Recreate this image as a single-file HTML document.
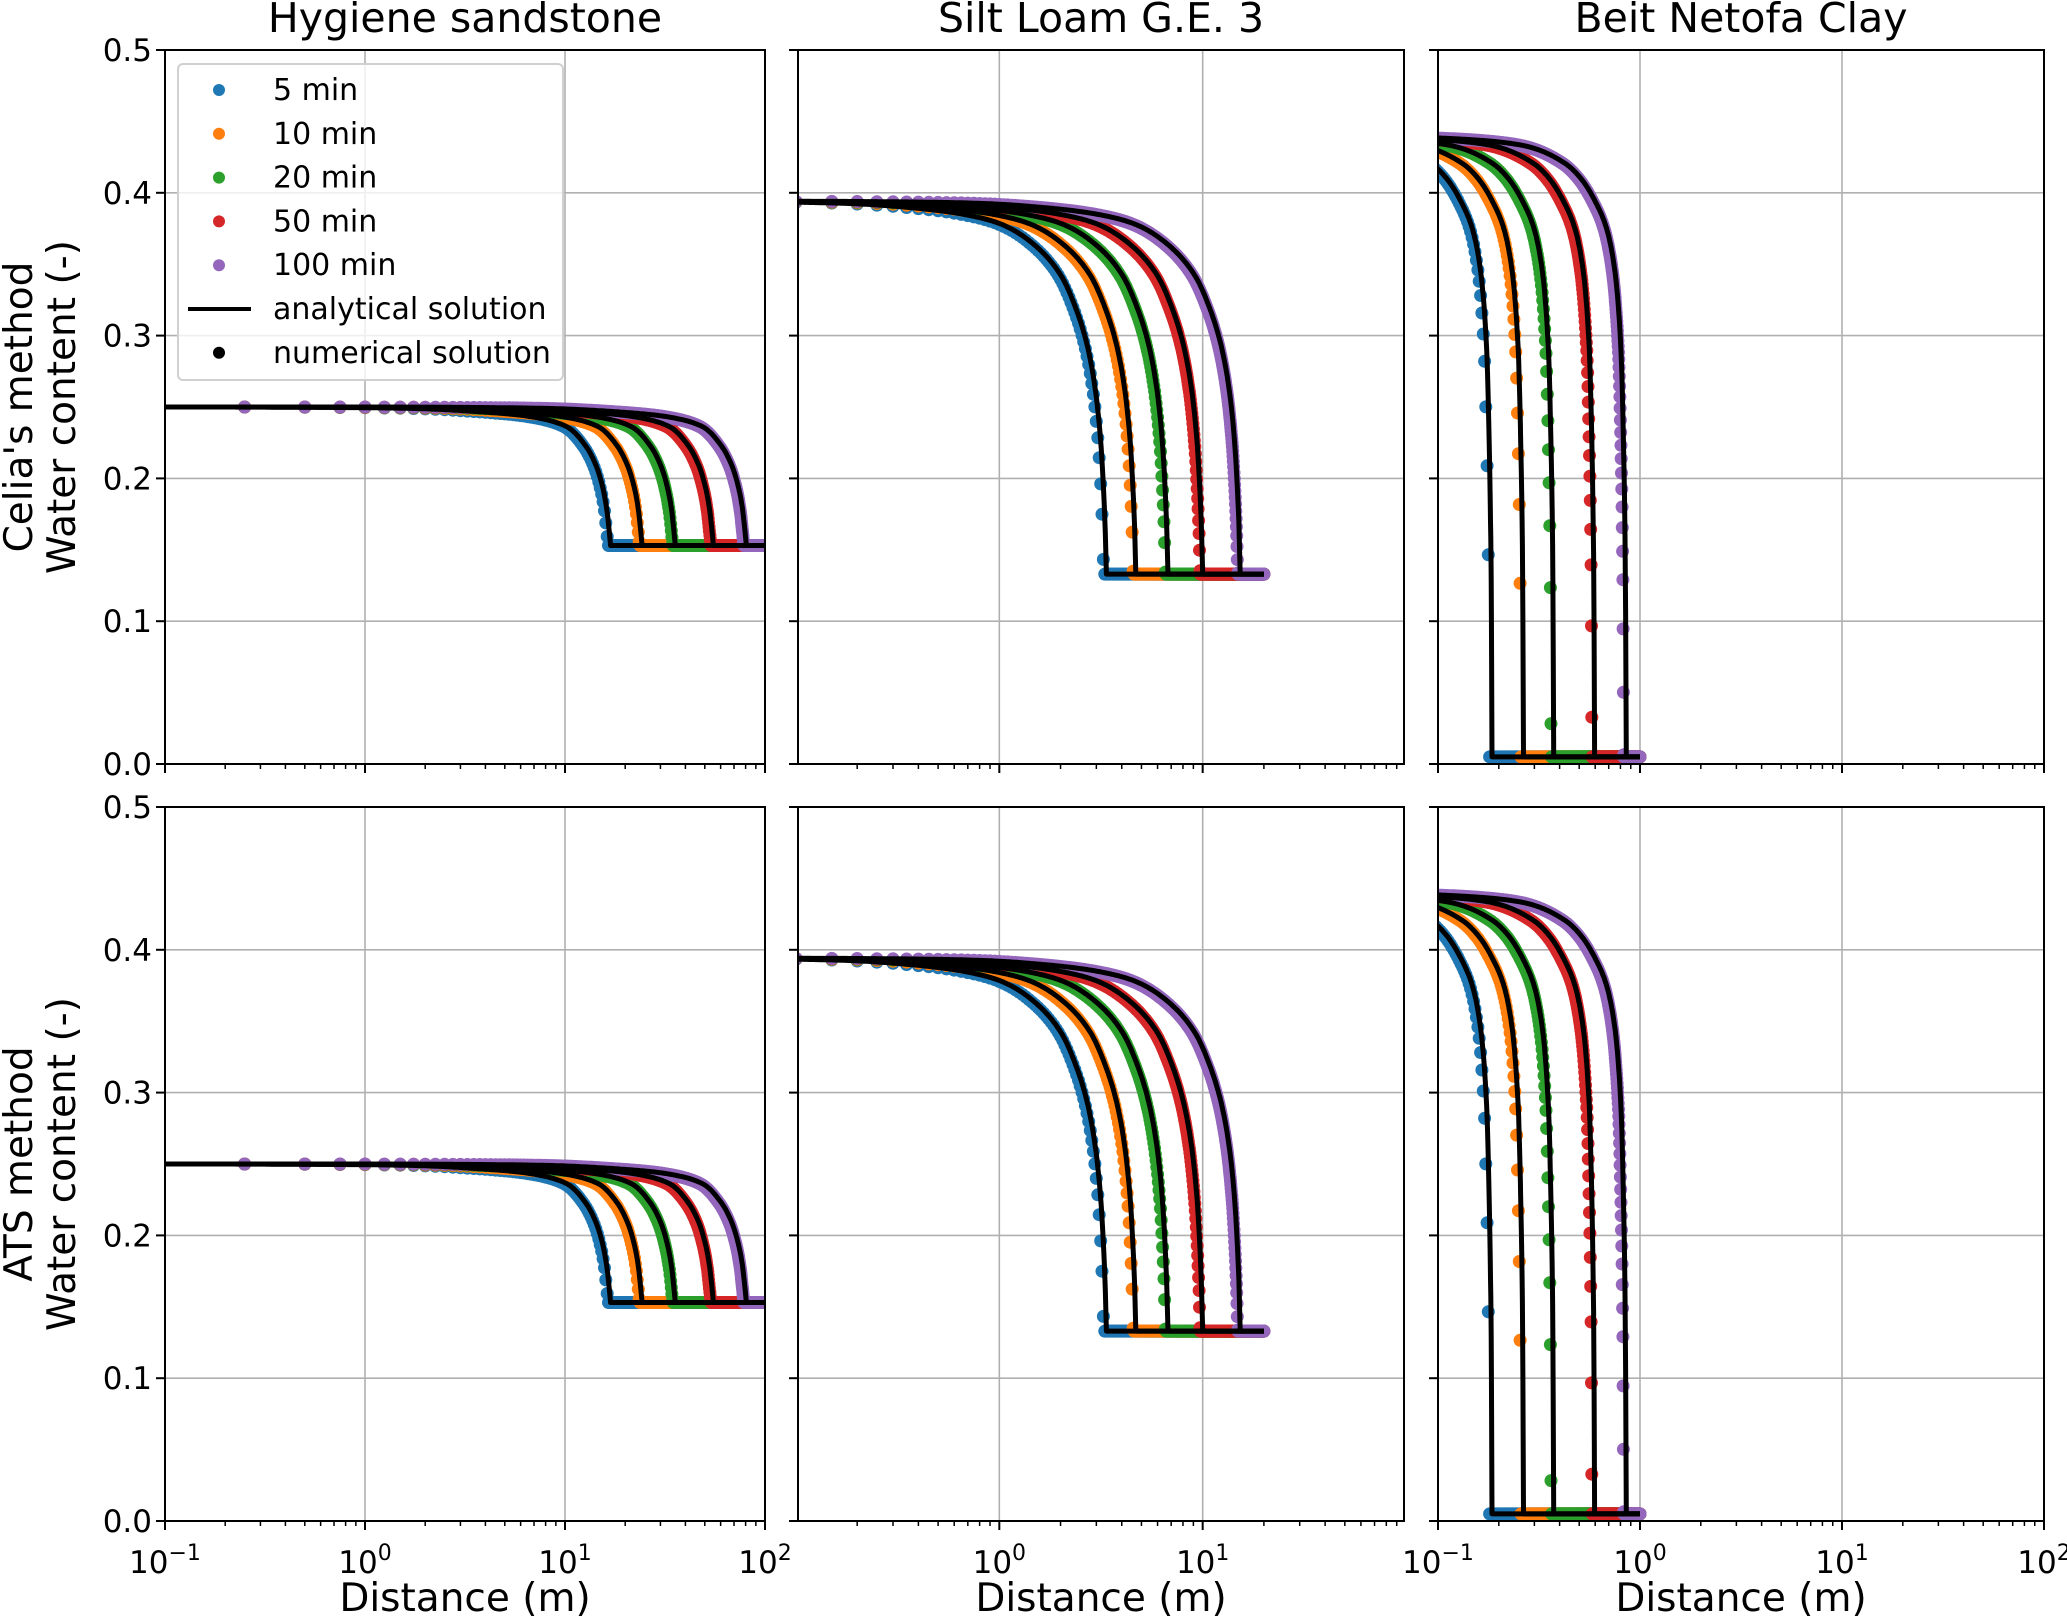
<!DOCTYPE html>
<html><head><meta charset="utf-8"><style>
html,body{margin:0;padding:0;background:#fff}
svg{display:block;font-family:"DejaVu Sans","Liberation Sans",sans-serif}
</style></head><body>
<svg id="chart" width="2067" height="1617" viewBox="0 0 2067 1617" xmlns="http://www.w3.org/2000/svg"></svg>
<script>
// ---- data ----
const soils = ["Hygiene sandstone", "Silt Loam G.E. 3", "Beit Netofa Clay"];
const methods = ["Celia's method", "ATS method"];
const times = ["5 min", "10 min", "20 min", "50 min", "100 min"];
const colors = ["#1f77b4", "#ff7f0e", "#2ca02c", "#d62728", "#9467bd"];
// wetting front positions (m) per soil, per time
const frontsSandstone = [16.9, 24.3, 35.6, 55.2, 80.7];
const frontsSilt = [3.36, 4.69, 6.75, 10.0, 15.3];
const frontsClay = [0.185, 0.265, 0.374, 0.596, 0.855];
const thetaInit = [0.25, 0.394, 0.44];
const thetaFinal = [0.153, 0.133, 0.005];
const domainEnd = [100, 20, 1.0];
const dotSpacing = [0.25, 0.05, 0.0025];
// profile shape: x/front ratio -> fraction of (thetaInit - thetaFinal)
const shapeRatioSandstone = [0.01, 0.1, 0.2, 0.4, 0.6, 0.75, 0.85, 0.92, 0.96, 0.985, 1.0];
const shapeFracSandstone  = [1.0, 0.99, 0.97, 0.93, 0.86, 0.72, 0.57, 0.40, 0.25, 0.10, 0.0];
const shapeRatioSilt = [0.01, 0.05, 0.1, 0.2, 0.3, 0.45, 0.6, 0.7, 0.8, 0.88, 0.94, 0.97, 0.99, 1.0];
const shapeFracSilt  = [1.0, 0.995, 0.985, 0.965, 0.94, 0.88, 0.80, 0.72, 0.62, 0.50, 0.35, 0.22, 0.10, 0.0];
const shapeRatioClay = [0.05, 0.3, 0.5, 0.6, 0.7, 0.8, 0.88, 0.94, 0.97, 0.99, 1.0];
const shapeFracClay  = [1.0, 0.985, 0.955, 0.93, 0.895, 0.85, 0.78, 0.66, 0.50, 0.30, 0.0];
const yTicks = [0.0, 0.1, 0.2, 0.3, 0.4, 0.5];
const xLogRange = [[-1, 2], [-0.99, 1.99], [-1, 2]];
const xMajorExp = [-1, 0, 1, 2];
const legendLabels = ["5 min", "10 min", "20 min", "50 min", "100 min", "analytical solution", "numerical solution"];

const fronts = [frontsSandstone, frontsSilt, frontsClay];
const shapeR = [shapeRatioSandstone, shapeRatioSilt, shapeRatioClay];
const shapeF = [shapeFracSandstone, shapeFracSilt, shapeFracClay];

// ---- layout ----
const NS = "http://www.w3.org/2000/svg";
const svg = document.getElementById("chart");
const lefts = [165, 798, 1438], widths = [600, 606, 606], tops = [50, 807], H = 714;

function el(tag, attrs, parent) {
  const e = document.createElementNS(NS, tag);
  for (const k in attrs) e.setAttribute(k, attrs[k]);
  (parent || svg).appendChild(e);
  return e;
}
// monotone cubic (Fritsch-Carlson) slopes per soil
const slopes = shapeR.map((R, s) => {
  const F = shapeF[s], n = R.length, d = [], m = [];
  for (let i = 0; i < n - 1; i++) d.push((F[i+1] - F[i]) / (R[i+1] - R[i]));
  m.push(d[0]);
  for (let i = 1; i < n - 1; i++) m.push(d[i-1] * d[i] <= 0 ? 0 : 2 / (1 / d[i-1] + 1 / d[i]));
  m.push(d[n-2]);
  return m;
});
function shape(s, r) {
  const R = shapeR[s], F = shapeF[s], M = slopes[s];
  if (r <= R[0]) return F[0];
  if (r >= 1) return 0;
  for (let i = 1; i < R.length; i++) if (r <= R[i]) {
    const h = R[i] - R[i-1], t = (r - R[i-1]) / h;
    const h00 = 2*t*t*t - 3*t*t + 1, h10 = t*t*t - 2*t*t + t, h01 = -2*t*t*t + 3*t*t, h11 = t*t*t - t*t;
    return h00 * F[i-1] + h10 * h * M[i-1] + h01 * F[i] + h11 * h * M[i];
  }
  return 0;
}

for (let row = 0; row < 2; row++) {
  for (let col = 0; col < 3; col++) {
    const L = lefts[col], T = tops[row], W = widths[col];
    const [lo, hi] = xLogRange[col];
    const xs = v => L + (Math.log10(v) - lo) / (hi - lo) * W;
    const ys = v => T + H - v / 0.5 * H;
    const g = el("g", {});
    
    
    const clipId = "c" + row + col;
    const cp = el("clipPath", {id: clipId}, g);
    el("rect", {x: L, y: T, width: W, height: H}, cp);
    // grid
    const grid = el("g", {stroke: "#b0b0b0", "stroke-width": 1.6}, g);
    
    
    yTicks.forEach(v => el("line", {x1: L, x2: L + W, y1: ys(v), y2: ys(v)}, grid));
    xMajorExp.forEach(e => { const x = xs(Math.pow(10, e)); if (x >= L - 0.5 && x <= L + W + 0.5) el("line", {x1: x, x2: x, y1: T, y2: T + H}, grid); });
    // series
    const data = el("g", {"clip-path": "url(#" + clipId + ")"}, g);
    const s = col;
    const thFor = (xf) => (x => x >= xf ? thetaFinal[s] : thetaFinal[s] + (thetaInit[s] - thetaFinal[s]) * shape(s, x / xf));
    fronts[s].forEach((xf, i) => {
      const th = thFor(xf);
      const dg = el("g", {fill: colors[i]}, data);
      
      
      const dx = dotSpacing[s];
      for (let k = 1; k * dx <= domainEnd[s] + 1e-9; k++) {
        const x = k * dx;
        if (Math.log10(x) < lo - 0.02) continue;
        el("circle", {cx: xs(x).toFixed(1), cy: ys(th(x * 1.03)).toFixed(1), r: 6.5}, dg);
      }
    });
    fronts[s].forEach((xf, i) => {
      const th = thFor(xf);
      const xStart = Math.pow(10, lo);
      let p = "";
      const N = 300;
      const a = Math.log10(Math.min(xStart, xf * 0.5)), b = Math.log10(xf);
      let first = true;
      for (let j = 0; j <= N; j++) {
        const x = Math.pow(10, a + (b - a) * j / N) * (j === N ? 0.99999 : 1);
        if (x < xStart * 0.98) continue;
        p += (first ? "M" : "L") + xs(x).toFixed(1) + " " + ys(th(x)).toFixed(1);
        first = false;
      }
      p += "L" + xs(xf).toFixed(1) + " " + ys(thetaFinal[s]).toFixed(1);
      p += "L" + xs(domainEnd[s]).toFixed(1) + " " + ys(thetaFinal[s]).toFixed(1);
      const path = el("path", {d: p, fill: "none", stroke: "#000", "stroke-width": 5, "stroke-linejoin": "round"}, data);
      
      
    });
    // frame
    const frame = el("rect", {x: L, y: T, width: W, height: H, fill: "none", stroke: "#000", "stroke-width": 2}, g);
    
    
    // y ticks
    yTicks.forEach(v => {
      el("line", {x1: L - 9, x2: L, y1: ys(v), y2: ys(v), stroke: "#000", "stroke-width": 2}, g);
      if (col === 0) {
        const t = el("text", {x: L - 13, y: ys(v) + 11, "text-anchor": "end", "font-size": 31}, g);
        t.textContent = v.toFixed(1);
        
        
      }
    });
    // x ticks
    for (let e = Math.floor(lo); e <= Math.ceil(hi); e++) {
      for (let m = 1; m <= 9; m++) {
        const v = m * Math.pow(10, e);
        const lv = Math.log10(v);
        if (lv < lo - 1e-6 || lv > hi + 1e-6) continue;
        const x = xs(v);
        el("line", {x1: x, x2: x, y1: T + H, y2: T + H + (m === 1 ? 9 : 5), stroke: "#000", "stroke-width": m === 1 ? 2 : 1.5}, g);
        if (m === 1 && row === 1) {
          const t = el("text", {x: x, y: T + H + 52, "text-anchor": "middle", "font-size": 31}, g);
          
          
          const bb = el("tspan", {}, t); bb.textContent = "10";
          const sup = el("tspan", {dy: -13, "font-size": 22}, t); sup.textContent = e < 0 ? "\u2212" + (-e) : String(e);
        }
      }
    }
    if (row === 0) {
      const t = el("text", {x: L + W / 2, y: 32, "text-anchor": "middle", "font-size": 41}, g);
      t.textContent = soils[col];
      
      
    } else {
      const t = el("text", {x: L + W / 2, y: 1611, "text-anchor": "middle", "font-size": 39}, g);
      t.textContent = "Distance (m)";
      
      
    }
    if (col === 0) {
      const cy = T + H / 2;
      const t1 = el("text", {x: 0, y: 0, "text-anchor": "middle", "font-size": 39, transform: "translate(32," + cy + ") rotate(-90)"}, g);
      t1.textContent = methods[row];
      
      
      const t2 = el("text", {x: 0, y: 0, "text-anchor": "middle", "font-size": 39, transform: "translate(75," + cy + ") rotate(-90)"}, g);
      t2.textContent = "Water content (-)";
      
      
    }
  }
}
// legend
const lg = el("g", {});


el("rect", {x: 178, y: 64, width: 385, height: 316, rx: 5, fill: "#fff", "fill-opacity": 0.8, stroke: "#d0d0d0", "stroke-width": 2}, lg);
legendLabels.forEach((lab, i) => {
  const y = 90 + i * 43.8;
  const entry = el("g", {}, lg);
  
  
  if (i < 5) el("circle", {cx: 219, cy: y, r: 6, fill: colors[i]}, entry);
  else if (i === 5) el("line", {x1: 188, x2: 251, y1: y, y2: y, stroke: "#000", "stroke-width": 4}, entry);
  else el("circle", {cx: 219, cy: y, r: 6, fill: "#000"}, entry);
  const t = el("text", {x: 273, y: y + 10, "font-size": 30}, entry);
  t.textContent = lab;
});
</script>
</body></html>
